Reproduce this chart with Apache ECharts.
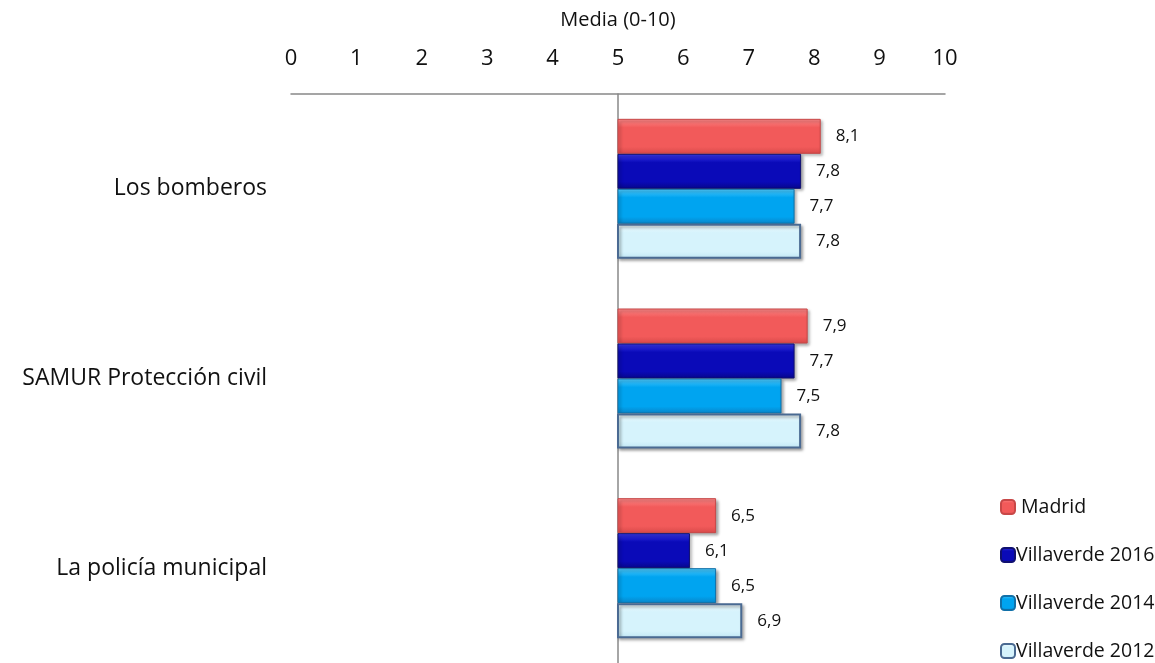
<!DOCTYPE html>
<html>
<head>
<meta charset="utf-8">
<script src="https://cdn.jsdelivr.net/npm/echarts@6/dist/echarts.min.js"></script>
<style>html,body{margin:0;padding:0;background:#fff}#c{width:1155px;height:663px}</style>
</head>
<body>
<div id="c"></div>
<script>
const categories = ['Los bomberos', 'SAMUR Protección civil', 'La policía municipal'];
const seriesNames = ['Madrid', 'Villaverde 2016', 'Villaverde 2014', 'Villaverde 2012'];
const madrid = [8.1, 7.9, 6.5];
const villaverde2016 = [7.8, 7.7, 6.1];
const villaverde2014 = [7.7, 7.5, 6.5];
const villaverde2012 = [7.8, 7.8, 6.9];
const axisTicks = [0, 1, 2, 3, 4, 5, 6, 7, 8, 9, 10];

const values = [madrid, villaverde2016, villaverde2014, villaverde2012];
const styles = [
  {c: ['#ff8a8a', '#f25a5a', '#d84a4a'], b: '#c84848'},
  {c: ['#3a3aee', '#0a0ab8', '#06068a'], b: '#101070'},
  {c: ['#50ccff', '#00a4f0', '#0884c8'], b: '#1070a8'},
  {c: ['#f2fcff', '#d6f3fc', '#c0e6f4'], b: '#4a6a92'}
];
function grad(c) {
  return new echarts.graphic.LinearGradient(0, 0, 0, 1, [
    {offset: 0, color: c[0]}, {offset: 0.25, color: c[1]},
    {offset: 0.8, color: c[1]}, {offset: 1, color: c[2]}
  ]);
}
const font = '"Open Sans", sans-serif';
const chart = echarts.init(document.getElementById('c'));
chart.setOption({
  animation: false,
  textStyle: {fontFamily: font},
  grid: [
    {left: 291, right: 210, top: 94, bottom: 0},
    {left: 618, right: 210, top: 94, bottom: 0}
  ],
  xAxis: [
    {gridIndex: 0, type: 'value', position: 'top', min: axisTicks[0], max: axisTicks[axisTicks.length - 1], interval: 1,
     name: 'Media (0-10)', nameLocation: 'middle', nameGap: 64,
     nameTextStyle: {fontSize: 20, color: '#111', fontFamily: font},
     axisLine: {show: true, lineStyle: {color: '#888', width: 1.5}},
     axisTick: {show: false}, splitLine: {show: false},
     axisLabel: {fontSize: 22, color: '#111', margin: 24, fontFamily: font}},
    {gridIndex: 1, type: 'value', min: 5, max: 10, show: false}
  ],
  yAxis: [
    {gridIndex: 0, type: 'category', data: categories, inverse: true,
     axisLine: {show: false}, axisTick: {show: false},
     axisLabel: {fontSize: 23, color: '#111', margin: 24, fontFamily: font, padding: [4, 0, 0, 0]}},
    {gridIndex: 1, type: 'category', data: categories, inverse: true,
     axisLine: {show: true, lineStyle: {color: '#888', width: 1.5}},
     axisTick: {show: false}, axisLabel: {show: false}}
  ],
  legend: {
    orient: 'vertical', left: 995, top: 491, height: 170, itemWidth: 14, itemHeight: 14, itemGap: 26,
    textStyle: {fontSize: 19.5, lineHeight: 22, color: '#111', fontFamily: font, padding: [0, 0, 0, -4]},
    formatter: n => n === 'Madrid' ? ' Madrid' : n,
    data: seriesNames
  },
  series: seriesNames.map((n, i) => ({
    name: n, type: 'bar', xAxisIndex: 1, yAxisIndex: 1,
    data: values[i], barWidth: 35, barGap: '0%',
    itemStyle: {color: grad(styles[i].c), borderColor: styles[i].b, borderWidth: i === 3 ? 2 : 1,
      shadowBlur: 3, shadowColor: 'rgba(0,0,0,0.35)', shadowOffsetX: 2, shadowOffsetY: 2},
    label: {show: true, position: 'right', distance: 15, fontSize: 17, color: '#111', fontFamily: font,
      formatter: p => String(p.value).replace('.', ',')}
  }))
});
</script>
</body>
</html>
